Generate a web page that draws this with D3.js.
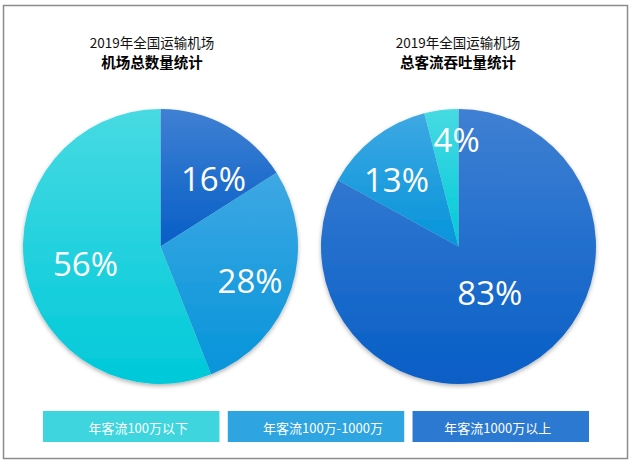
<!DOCTYPE html>
<html>
<head>
<meta charset="utf-8">
<script src="https://cdn.jsdelivr.net/npm/d3@7"></script>
<style>
  html, body { margin: 0; padding: 0; background: #fff; }
  #chart { width: 637px; height: 467px; }
</style>
</head>
<body>
<div id="chart"></div>
<script>
// categories (legend order)
const categories = ["年客流100万以下", "年客流100万-1000万", "年客流1000万以上"];
// share of airports / share of passenger throughput, by category (%)
const airportShare = [56, 28, 16];
const passengerShare = [4, 13, 83];
const titleTop = "2019年全国运输机场";
const pieTitles = ["机场总数量统计", "总客流吞吐量统计"];

const width = 637, height = 467;
const colorTop = ["#47dae2", "#3ea8e3", "#3f80d3"];
const colorBottom = ["#00c9d9", "#0694da", "#075ec6"];
const legendColor = ["#3ed5de", "#2ea4e1", "#2b79d1"];
const cjk = "'Noto Sans CJK SC', 'Noto Sans', sans-serif";

// label placement (angle in degrees from 12 o'clock, radius in px), per pie & category
const labelPos = [
  [{ a: 257, r: 77 }, { a: 111, r: 96 }, { a: 38, r: 86 }],
  [{ a: 359, r: 107 }, { a: 317, r: 91 }, { a: 146, r: 56 }]
];

const svg = d3.select("#chart")
  .append("svg")
  .attr("width", width)
  .attr("height", height);

const defs = svg.append("defs");

categories.forEach((c, i) => {
  const g = defs.append("linearGradient")
    .attr("id", "grad" + i)
    .attr("x1", 0).attr("y1", 0).attr("x2", 0).attr("y2", 1);
  g.append("stop").attr("offset", "0%").attr("stop-color", colorTop[i]);
  g.append("stop").attr("offset", "100%").attr("stop-color", colorBottom[i]);
});

const shadow = defs.append("filter")
  .attr("id", "shadow")
  .attr("x", "-10%").attr("y", "-10%")
  .attr("width", "120%").attr("height", "120%");
shadow.append("feDropShadow")
  .attr("dx", 0).attr("dy", 2)
  .attr("stdDeviation", 2)
  .attr("flood-color", "#000")
  .attr("flood-opacity", 0.3);

// frame
svg.append("rect")
  .attr("x", 3.5).attr("y", 5.5)
  .attr("width", 624).attr("height", 453)
  .attr("fill", "#fff")
  .attr("stroke", "#8c8c8c")
  .attr("stroke-width", 1.5);

const radius = 137.5;
const centers = [{ x: 160.5, y: 246.5 }, { x: 458.5, y: 246.5 }];
const titleX = [152, 458];

const pie = d3.pie().sort(null).value(d => d.v);
const arc = d3.arc().innerRadius(0).outerRadius(radius);

[airportShare, passengerShare].forEach((values, p) => {
  // clockwise from 12 o'clock: largest-traffic category first
  const items = values.map((v, i) => ({ v, i })).reverse();
  const c = centers[p];

  const g = svg.append("g")
    .attr("transform", `translate(${c.x},${c.y})`);

  g.append("g")
    .attr("filter", "url(#shadow)")
    .selectAll("path")
    .data(pie(items))
    .join("path")
    .attr("d", arc)
    .attr("fill", d => `url(#grad${d.data.i})`);

  g.selectAll("text")
    .data(items)
    .join("text")
    .attr("x", d => Math.sin(labelPos[p][d.i].a * Math.PI / 180) * labelPos[p][d.i].r)
    .attr("y", d => -Math.cos(labelPos[p][d.i].a * Math.PI / 180) * labelPos[p][d.i].r)
    .attr("text-anchor", "middle")
    .attr("dominant-baseline", "central")
    .attr("fill", "#fff")
    .style("font-family", "'Open Sans', 'Noto Sans', sans-serif")
    .style("font-size", "33px")
    .text(d => d.v + "%");

  svg.append("text")
    .attr("x", titleX[p])
    .attr("y", 48)
    .attr("text-anchor", "middle")
    .attr("fill", "#111")
    .style("font-family", cjk)
    .style("font-size", "13.5px")
    .text(titleTop);

  svg.append("text")
    .attr("x", titleX[p])
    .attr("y", 68)
    .attr("text-anchor", "middle")
    .attr("fill", "#000")
    .style("font-family", cjk)
    .style("font-weight", "bold")
    .style("font-size", "14.5px")
    .text(pieTitles[p]);
});

// legend
const legendX = d3.scaleBand()
  .domain(d3.range(categories.length))
  .range([43, 589])
  .paddingInner(0.045);

const legend = svg.append("g")
  .selectAll("g")
  .data(categories)
  .join("g")
  .attr("transform", (d, i) => `translate(${legendX(i)},411)`);

legend.append("rect")
  .attr("width", legendX.bandwidth())
  .attr("height", 31)
  .attr("fill", (d, i) => legendColor[i]);

legend.append("text")
  .attr("x", (d, i) => legendX.bandwidth() / 2 + [7, 7, -3][i])
  .attr("y", 16)
  .attr("text-anchor", "middle")
  .attr("dominant-baseline", "central")
  .attr("fill", "#fff")
  .style("font-family", cjk)
  .style("font-size", "13px")
  .text(d => d);
</script>
</body>
</html>
